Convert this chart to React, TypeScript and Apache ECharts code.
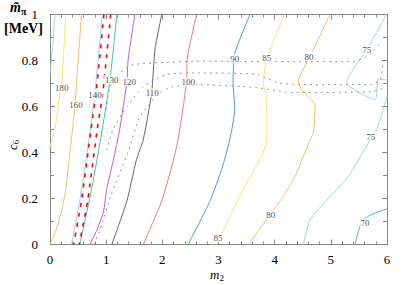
import React, { useEffect, useRef } from "react";
import * as echarts from "echarts";

// x ticks / y ticks
const xTicks = [0, 1, 2, 3, 4, 5, 6];
const yTicks = [0, 0.2, 0.4, 0.6, 0.8, 1];

// contour lines [m2, c6]
const c200 = [[0.09, 1], [0.05, 0.87], [0, 0.74]];
const c180 = [[0.28, 1], [0.21, 0.7], [0.18, 0.67], [0.09, 0.5], [0, 0.425]];
const c160 = [[0.56, 1], [0.445, 0.61], [0.4, 0.5], [0.28, 0.24], [0.21, 0.15], [0.09, 0.05], [0, 0]];
const c140 = [[0.93, 1], [0.8, 0.66], [0.72, 0.5], [0.53, 0.19], [0.38, 0]];
const redA = [[0.96, 1], [0.82, 0.66], [0.73, 0.5], [0.56, 0.19], [0.42, 0]];
const redB = [[1.08, 1], [0.94, 0.66], [0.84, 0.5], [0.67, 0.19], [0.52, 0]];
const c130 = [[1.19, 1], [1.07, 0.72], [0.93, 0.5], [0.74, 0.24], [0.53, 0]];
const c120 = [[1.51, 1], [1.39, 0.8], [1.37, 0.71], [1.24, 0.5], [1.13, 0.37], [1.01, 0.24], [0.95, 0.14], [0.83, 0.06], [0.71, 0]];
const c110 = [[1.99, 1], [1.87, 0.85], [1.81, 0.66], [1.66, 0.455], [1.54, 0.37], [1.37, 0.19], [1.1, 0]];
const c100 = [[2.61, 1], [2.45, 0.82], [2.43, 0.71], [2.39, 0.63], [2.28, 0.455], [2.2, 0.37], [1.99, 0.19], [1.66, 0]];
const c90 = [[3.56, 1], [3.29, 0.83], [3.26, 0.7], [3.29, 0.59], [3.2, 0.455], [3.06, 0.33], [2.85, 0.19], [2.46, 0]];
const c85 = [[4.18, 1], [3.86, 0.81], [3.8, 0.7], [3.86, 0.63], [3.86, 0.455], [3.74, 0.37], [3.44, 0.24], [3.2, 0.12], [2.97, 0]];
const c80 = [[4.985, 1], [4.63, 0.817], [4.42, 0.71], [4.48, 0.673], [4.72, 0.603], [4.69, 0.486], [4.63, 0.455], [4.54, 0.4], [4.36, 0.295], [4.15, 0.208], [3.92, 0.129], [3.53, 0]];
const c75a = [[5.99, 1], [5.64, 0.847], [5.28, 0.705], [5.79, 0.63], [5.84, 0.72], [6, 0.715]];
const c75b = [[6, 0.644], [5.82, 0.5], [5.7, 0.455], [5.31, 0.295], [4.93, 0.194], [4.63, 0.107], [4.51, 0]];
const c70 = [[5.43, 0], [5.55, 0.1], [5.72, 0.13], [6, 0.155]];
const dot1 = [[1.0, 0.586], [1.07, 0.686], [1.25, 0.747], [1.48, 0.782], [2.08, 0.792], [2.67, 0.797], [4.45, 0.795], [5.39, 0.795], [5.7, 0.826], [5.89, 0.88]];
const dot2 = [[1.01, 0.41], [1.12, 0.5], [1.37, 0.6], [1.66, 0.686], [2.08, 0.739], [2.67, 0.746], [3.69, 0.739], [4.04, 0.704], [4.45, 0.695], [5.7, 0.695], [5.88, 0.717], [5.93, 0.8]];
const dot3 = [[0.78, 0], [0.89, 0.063], [1.1, 0.224], [1.39, 0.403], [1.6, 0.556], [1.96, 0.66], [2.19, 0.686], [2.67, 0.695], [3.69, 0.682], [4.27, 0.661], [5.7, 0.664], [5.95, 0.68]];

// contour labels [m2, c6, text]
const labels = [
  [0.21, 0.682, "180"], [0.463, 0.608, "160"], [0.8, 0.651, "140"], [1.1, 0.717, "130"],
  [1.41, 0.708, "120"], [1.82, 0.66, "110"], [2.46, 0.708, "100"], [3.29, 0.808, "90"],
  [3.86, 0.812, "85"], [4.61, 0.817, "80"], [5.64, 0.847, "75"], [5.71, 0.468, "75"],
  [2.99, 0.028, "85"], [3.93, 0.129, "80"], [5.61, 0.094, "70"],
];

const LB = "#9dd3f0", YEL = "#f5e66a", ORA = "#f5c060", GRN = "#4cc0a0", PUR = "#b05ef0";
const GRY = "#666666", SAL = "#f07878", BLU = "#4a9fd0";

export default function App() {
  const ref = useRef<HTMLDivElement>(null);
  useEffect(() => {
    const chart = echarts.init(ref.current!, null, { renderer: "svg" });
    const line = (data: number[][], color: string, extra: any = {}) => ({
      type: "line", data, showSymbol: false, symbol: "none", smooth: 0.2,
      lineStyle: { color, width: 1, ...extra }, z: 2, silent: true,
    });
    const axisCommon = {
      axisLine: { show: true, onZero: false, lineStyle: { color: "#888", width: 1 } },
      splitLine: { show: false },
    };
    const serif = "'Liberation Serif', serif";
    chart.setOption({
      animation: false,
      textStyle: { fontFamily: serif },
      grid: { left: 50, right: 20, top: 14.5, bottom: 40.5 },
      xAxis: [
        {
          type: "value", min: 0, max: 6, interval: 1, position: "bottom", ...axisCommon,
          axisTick: { show: true, inside: true, length: 5, lineStyle: { color: "#888" } },
          minorTick: { show: true, splitNumber: 5, length: 3, lineStyle: { color: "#888" } },
          axisLabel: { color: "#000", fontFamily: serif, fontSize: 13, margin: 8, formatter: (v: number) => (xTicks.includes(v) ? String(v) : "") },
        },
        {
          type: "value", min: 0, max: 6, interval: 1, position: "top", ...axisCommon,
          axisTick: { show: true, inside: true, length: 5, lineStyle: { color: "#888" } },
          minorTick: { show: true, splitNumber: 5, length: 3, lineStyle: { color: "#888" } },
          axisLabel: { show: false },
        },
      ],
      yAxis: [
        {
          type: "value", min: 0, max: 1, interval: 0.2, position: "left", ...axisCommon,
          axisTick: { show: true, inside: true, length: 5, lineStyle: { color: "#888" } },
          minorTick: { show: true, splitNumber: 2, length: 4, lineStyle: { color: "#888" } },
          axisLabel: { color: "#000", fontFamily: serif, fontSize: 13, margin: 12, formatter: (v: number) => { const t = yTicks.find((k) => Math.abs(k - v) < 1e-6); return t === undefined ? "" : String(t); } },
        },
        {
          type: "value", min: 0, max: 1, interval: 0.2, position: "right", ...axisCommon,
          axisTick: { show: true, inside: true, length: 5, lineStyle: { color: "#888" } },
          minorTick: { show: true, splitNumber: 2, length: 4, lineStyle: { color: "#888" } },
          axisLabel: { show: false },
        },
      ],
      series: [
        line(c200, LB), line(c180, YEL), line(c160, ORA), line(c140, LB),
        line(c130, GRN), line(c120, PUR), line(c110, GRY), line(c100, SAL),
        line(c90, BLU), line(c85, YEL), line(c80, ORA), line(c75a, LB), line(c75b, LB), line(c70, GRN),
        line(dot1, "#999", { type: [2, 4] }), line(dot2, "#999", { type: [2, 4] }), line(dot3, "#999", { type: [2, 4] }),
        { ...line(redA, "#ff0000", { width: 1.6, type: [4, 6] }), z: 3 },
        { ...line(redB, "#ff0000", { width: 1.6, type: [4, 6] }), z: 3 },
        {
          type: "scatter", data: labels, symbolSize: 0, z: 5, silent: true,
          label: {
            show: true, position: "inside", formatter: (p: any) => p.value[2],
            fontFamily: serif, fontSize: 9, color: "#222", backgroundColor: "#fff", padding: [0, 1],
          },
        },
      ],
      graphic: [
        {
          type: "text", left: 10, top: 0,
          style: {
            text: "{a|m̃}{b|π}", rich: {
              a: { fontFamily: serif, fontStyle: "italic", fontWeight: "bold", fontSize: 14, fill: "#000" },
              b: { fontFamily: serif, fontWeight: "bold", fontSize: 10, fill: "#000", padding: [8, 0, 0, 0] },
            },
          },
        },
        { type: "text", left: 4, top: 21, style: { text: "[MeV]", fontFamily: serif, fontWeight: "bold", fontSize: 14, fill: "#000" } },
        {
          type: "text", x: 5, y: 150, rotation: Math.PI / 2,
          style: {
            text: "{a|c}{b|6}", rich: {
              a: { fontFamily: serif, fontStyle: "italic", fontSize: 13, fill: "#000" },
              b: { fontFamily: serif, fontSize: 9, fill: "#000", padding: [6, 0, 0, 0] },
            },
          },
        },
        {
          type: "text", x: 210, y: 267,
          style: {
            text: "{a|m}{b|2}", rich: {
              a: { fontFamily: serif, fontStyle: "italic", fontSize: 13, fill: "#000" },
              b: { fontFamily: serif, fontSize: 9, fill: "#000", padding: [6, 0, 0, 0] },
            },
          },
        },
      ],
    });
    return () => chart.dispose();
  }, []);
  return <div ref={ref} style={{ position: "absolute", left: 0, top: 0, width: 407, height: 285, background: "#fff" }} />;
}
